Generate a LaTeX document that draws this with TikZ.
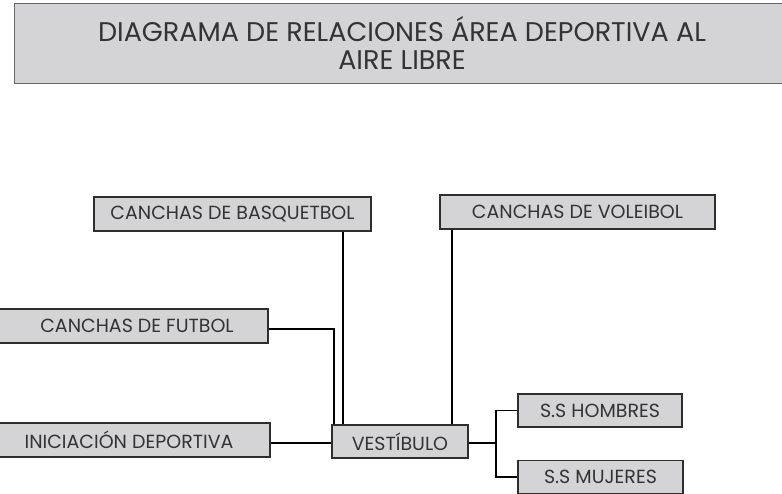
\documentclass[tikz,border=0pt]{standalone}
\usepackage{fontspec}
\setmainfont{Poppins}
\usetikzlibrary{shadows}
\definecolor{boxfill}{HTML}{D4D4D6}
\definecolor{boxline}{HTML}{2E2E2E}
\definecolor{txt}{HTML}{333333}
\begin{document}
\begin{tikzpicture}[x=1pt,y=-1pt,
  box/.style={draw=boxline, line width=1.2pt, fill=boxfill, text=txt, inner sep=0pt,
    font=\fontsize{19}{21}\selectfont, anchor=center,
    drop shadow={shadow xshift=0.8pt, shadow yshift=-0.8pt, fill=gray!60, opacity=1}},
  link/.style={line width=1.2pt, black}]
\useasboundingbox (0,0) rectangle (782,494);
% title
\node[draw=gray!80!black, line width=0.8pt, fill=boxfill, text=txt, inner sep=0pt,
  minimum width=776pt, minimum height=80pt, align=center,
  font=\fontsize{27}{28}\selectfont] (title) at (402,43)
  {DIAGRAMA DE RELACIONES ÁREA DEPORTIVA AL\\AIRE LIBRE};
% boxes
\node[box, minimum width=277pt, minimum height=34pt] (basq) at (232.5,214) {CANCHAS DE BASQUETBOL};
\node[box, minimum width=275pt, minimum height=34pt] (volei) at (577.5,212) {CANCHAS DE VOLEIBOL};
\node[box, minimum width=280pt, minimum height=34pt] (futbol) at (128,326) {\hspace*{18pt}CANCHAS DE FUTBOL};
\node[box, minimum width=282pt, minimum height=34pt] (inic) at (129,440) {INICIACIÓN DEPORTIVA};
\node[box, minimum width=136pt, minimum height=33pt] (vest) at (400,441.5) {VESTÍBULO};
\node[box, minimum width=164pt, minimum height=33pt] (homb) at (600,410.5) {S.S HOMBRES};
\node[box, minimum width=165pt, minimum height=33pt] (muj) at (600.5,477) {S.S MUJERES};
% junction coordinates
\coordinate (xb) at (343,0);
\coordinate (xv) at (452,0);
\coordinate (fj) at (334,329);
\coordinate (ij) at (0,443);
\coordinate (vj) at (496,443);
% connectors
\draw[link] (xb |- basq.south) -- (xb |- vest.north);
\draw[link] (xv |- volei.south) -- (xv |- vest.north);
\draw[link] (futbol.east |- fj) -- (fj) -- (fj |- vest.north);
\draw[link] (inic.east |- ij) -- (vest.west |- ij);
\draw[link] (vest.east |- vj) -- (vj);
\draw[link] (homb.west) -| (vj) |- (muj.west);
\end{tikzpicture}
\end{document}
